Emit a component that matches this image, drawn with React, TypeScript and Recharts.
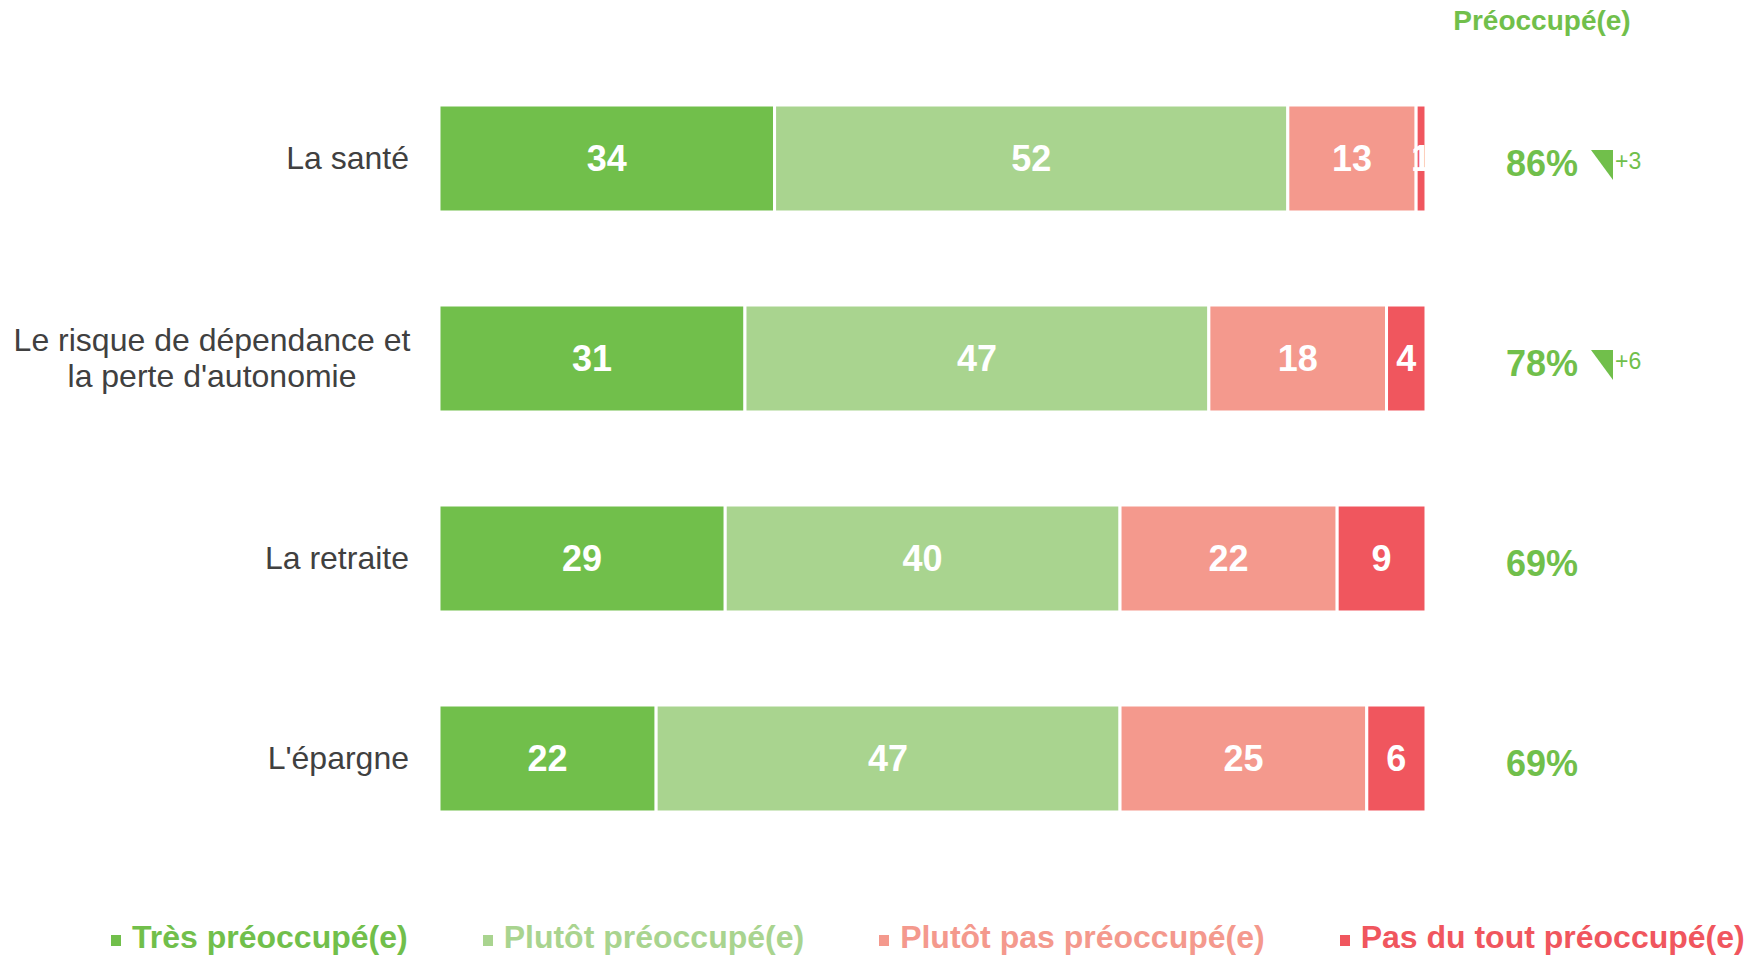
import { BarChart, Bar, XAxis, YAxis, LabelList } from 'recharts';

const categories = ['La santé', 'Le risque de dépendance et\nla perte d\'autonomie', 'La retraite', 'L\'épargne'];
const tres = [34, 31, 29, 22];
const plutot = [52, 47, 40, 47];
const plutotPas = [13, 18, 22, 25];
const pasDuTout = [1, 4, 9, 6];
const preoccupe = ['86%', '78%', '69%', '69%'];
const evolution = ['+3', '+6', '', ''];

const legendItems = ['Très préoccupé(e)', 'Plutôt préoccupé(e)', 'Plutôt pas préoccupé(e)', 'Pas du tout préoccupé(e)'];
const COLORS = ['#71BF4B', '#A9D48F', '#F4998D', '#F0565E'];
const FONT = '"Liberation Sans", Arial, sans-serif';

const data = categories.map((name, i) => ({
  name,
  tres: tres[i],
  plutot: plutot[i],
  plutotPas: plutotPas[i],
  pasDuTout: pasDuTout[i],
  pct: preoccupe[i],
  evo: evolution[i]
}));

// category labels on the left, right aligned; wrapped labels are centred on each other
const CategoryTick = (props: any) => {
  const { x, y, payload } = props;
  const lines = String(payload.value).split('\n');
  if (lines.length === 1) {
    return (
      <text x={x - 30} y={y + 11} textAnchor="end" fontSize={32} fill="#404040" fontFamily={FONT}>
        {lines[0]}
      </text>
    );
  }
  return (
    <g>
      {lines.map((l, i) => (
        <text key={i} x={x - 227} y={y - 7 + i * 36} textAnchor="middle" fontSize={32} fill="#404040" fontFamily={FONT}>
          {l}
        </text>
      ))}
    </g>
  );
};

// total "préoccupé" + evolution marker on the right
const PctTick = (props: any) => {
  const { x, y, index } = props;
  const row = data[index];
  if (!row) return null;
  return (
    <g>
      <text x={x + 116} y={y + 18} textAnchor="middle" fontSize={36} fontWeight="bold" fill={COLORS[0]} fontFamily={FONT}>
        {row.pct}
      </text>
      {row.evo && (
        <>
          <polygon points={`${x + 165},${y - 8} ${x + 187},${y - 8} ${x + 187},${y + 22}`} fill={COLORS[0]} />
          <text x={x + 189} y={y + 11} fontSize={23} fill={COLORS[0]} fontFamily={FONT}>
            {row.evo}
          </text>
        </>
      )}
    </g>
  );
};

const keys = ['tres', 'plutot', 'plutotPas', 'pasDuTout'];

export default function App() {
  return (
    <div style={{ position: 'relative', width: 1749, height: 959, fontFamily: FONT, background: '#fff' }}>
      <style>{'body{margin:0}'}</style>
      <BarChart
        width={1749}
        height={959}
        layout="vertical"
        data={data}
        margin={{ top: 58, right: 0, bottom: 101, left: 0 }}
        barSize={107}
      >
        <XAxis type="number" domain={[0, 100]} hide />
        <YAxis
          yAxisId="left"
          type="category"
          dataKey="name"
          width={439}
          axisLine={false}
          tickLine={false}
          tickSize={0}
          tickMargin={0}
          tick={<CategoryTick />}
        />
        <YAxis
          yAxisId="right"
          orientation="right"
          type="category"
          dataKey="name"
          width={323}
          axisLine={false}
          tickLine={false}
          tickSize={0}
          tickMargin={0}
          tick={<PctTick />}
        />
        {keys.map((k, i) => (
          <Bar key={k} yAxisId="left" dataKey={k} stackId="a" fill={COLORS[i]} stroke="#fff" strokeWidth={3} isAnimationActive={false}>
            <LabelList dataKey={k} position="center" fill="#fff" fontSize={36} fontWeight="bold" fontFamily={FONT} />
          </Bar>
        ))}
      </BarChart>

      <div style={{ position: 'absolute', left: 1442, top: 5, width: 200, textAlign: 'center', fontSize: 28, lineHeight: '32px', fontWeight: 'bold', color: COLORS[0] }}>
        Préoccupé(e)
      </div>

      <div style={{ position: 'absolute', left: 111, top: 919, display: 'flex', gap: 75, whiteSpace: 'nowrap' }}>
        {legendItems.map((t, i) => (
          <div key={t} style={{ display: 'flex', alignItems: 'center', color: COLORS[i], fontSize: 32, lineHeight: '36px', fontWeight: 'bold' }}>
            <span style={{ display: 'inline-block', width: 10, height: 11, background: COLORS[i], marginRight: 11, marginTop: 6 }} />
            {t}
          </div>
        ))}
      </div>
    </div>
  );
}
